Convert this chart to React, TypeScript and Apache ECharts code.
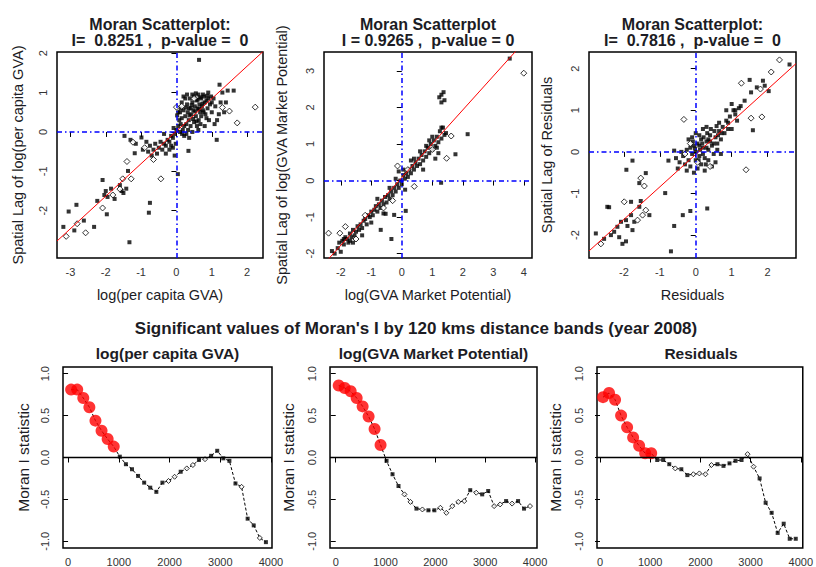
import React, { useEffect, useRef } from "react";
import * as echarts from "echarts";

type Pt = [number, number];

const FONT = '"Liberation Sans", Arial, Helvetica, sans-serif';

// ---------- top row: Moran scatterplots ----------
const moranI = [0.8251, 0.9265, 0.7816];
const lineIntercepts = [0.02, 0.08, -0.06];
const scatterTitles = ["Moran Scatterplot:", "Moran Scatterplot", "Moran Scatterplot:"];
const scatterStats = ["I=  0.8251 ,  p-value =  0", "I = 0.9265 ,  p-value = 0", "I=  0.7816 ,  p-value =  0"];
const scatterXNames = ["log(per capita GVA)", "log(GVA Market Potential)", "Residuals"];
const scatterYNames = [
  "Spatial Lag of log(per capita GVA)",
  "Spatial Lag of log(GVA Market Potential)",
  "Spatial Lag of Residuals",
];
const scatterXTicks = [[-3, -2, -1, 0, 1, 2], [-2, -1, 0, 1, 2, 3, 4], [-2, -1, 0, 1, 2]];
const scatterYTicks = [[-2, -1, 0, 1, 2], [-2, -1, 0, 1, 2, 3], [-2, -1, 0, 1, 2]];
const scatterXRange = [[-3.38, 2.45], [-2.55, 4.27], [-2.97, 2.79]];
const scatterYRange = [[-3.2, 2.03], [-2.12, 3.52], [-2.55, 2.4]];

const gvaRegular: Pt[] = [
  [0.05, 0.5], [0.1, 0.5], [0.15, 0.35], [0.2, 0.55], [0.25, 0.4], [0.3, 0.7], [0.32, 0.5], [0.35, 0.3],
  [0.38, 0.85], [0.4, 0.6], [0.42, 0.45], [0.45, 0.75], [0.48, 0.55], [0.5, 0.9], [0.52, 0.65], [0.55, 0.4],
  [0.57, 0.8], [0.6, 0.6], [0.62, 0.95], [0.65, 0.7], [0.67, 0.5], [0.7, 0.85], [0.72, 0.65], [0.75, 0.55],
  [0.78, 0.9], [0.8, 0.75], [0.82, 0.45], [0.85, 0.8], [0.88, 0.6], [0.9, 1.0], [0.95, 0.7], [1.0, 0.5],
  [1.05, 0.85], [1.1, 0.65], [1.15, 0.3], [1.2, 0.45], [1.3, 1.0], [1.4, 0.75], [1.62, 1.05], [0.12, 0.2],
  [0.18, 0.05], [0.22, 0.15], [0.08, 0.3], [0.28, 0.2], [0.33, 0.05], [0.4, 0.15], [0.45, 0.0], [0.5, 0.25],
  [0.58, 0.15], [0.63, 0.3], [0.68, 0.2], [0.25, 0.85], [0.3, 0.95], [0.35, 0.6], [0.45, 0.95], [0.55, 0.98],
  [0.6, 0.82], [0.7, 0.4], [0.75, 0.95], [0.85, 0.35], [0.92, 0.3], [0.98, 0.9], [1.08, 0.2], [0.15, 0.75],
  [0.2, 0.9], [0.05, 0.15], [0.02, 0.42], [0.0, 0.05], [0.1, 0.0], [0.16, -0.05], [0.22, -0.1], [0.28, -0.05],
  [0.36, -0.15], [0.62, 0.05], [0.8, 0.15], [1.25, 0.75], [1.35, 0.5], [0.53, 0.52], [0.43, 0.68], [0.64, 0.58],
  [0.74, 0.72], [0.37, 0.42], [0.47, 0.33], [0.57, 0.27], [0.67, 0.88], [0.77, 0.5], [0.87, 0.92], [1.45, 1.05],
  [1.22, 1.2], [0.64, 1.83], [1.14, -0.2], [0.34, -0.48], [0.04, -1.07], [0.9, 0.85], [1.0, 0.75], [0.12, 0.6],
  [0.26, 0.62],
  [-0.05, -0.05], [-0.1, -0.15], [-0.15, -0.1], [-0.2, -0.25], [-0.25, -0.2], [-0.3, -0.35], [-0.35, -0.3],
  [-0.4, -0.45], [-0.45, -0.25], [-0.5, -0.4], [-0.55, -0.55], [-0.6, -0.3], [-0.65, -0.45], [-0.7, -0.6],
  [-0.75, -0.35], [-0.8, -0.5], [-0.1, -0.4], [-0.2, -0.45], [-0.3, -0.55], [-0.15, -0.35], [-0.08, 0.1],
  [-0.02, -0.3], [-0.05, -0.6], [-0.35, -0.05], [-0.95, -0.45], [-0.85, -0.25],
  [-1.47, -0.1], [-0.99, -0.14], [-1.18, -0.54], [-1.15, -0.3], [-1.3, -0.2], [-1.37, -0.99], [-1.42, -1.44],
  [-1.6, -1.35], [-1.55, -1.5], [-1.5, -1.55], [-1.75, -1.7], [-2.09, -1.22], [-1.85, -1.44], [-2.04, -1.6],
  [-1.97, -2.09], [-2.24, -1.75], [-0.75, -1.8], [-0.78, -2.05], [-1.33, -2.8], [-2.83, -1.85], [-3.05, -2.02],
  [-2.33, -2.41], [-3.2, -2.41], [-2.89, -2.5], [-2.62, -2.25], [-1.95, -1.65], [-2.0, -1.5],
];
const gvaInfluential: Pt[] = [
  [2.23, 0.63], [1.72, 0.23], [1.5, 0.53], [0.0, 0.63], [1.3, 0.62], [-1.23, -0.26], [-0.65, -0.7],
  [-0.44, -1.19], [-1.52, -1.19], [-1.28, -1.19], [-1.8, -1.6], [-2.09, -1.93], [-2.81, -2.33], [-2.57, -2.56],
  [-3.12, -2.65], [-1.4, -0.75], [-0.9, -0.4], [0.15, 0.65], [0.5, 0.85], [-1.6, -1.45],
];

const mpRegular: Pt[] = [
  [-2.2, -2.0], [-2.1, -1.85], [-2.0, -1.95], [-1.95, -1.65], [-1.9, -1.75], [-1.85, -1.55], [-1.8, -1.6],
  [-1.75, -1.7], [-1.7, -1.45], [-1.65, -1.55], [-1.6, -1.35], [-1.55, -1.5], [-1.5, -1.4], [-1.45, -1.25],
  [-1.4, -1.35], [-1.35, -1.2], [-1.3, -1.3], [-1.25, -1.1], [-1.2, -1.05], [-1.15, -1.2], [-1.1, -0.95],
  [-1.05, -1.0], [-1.0, -0.85], [-0.95, -0.95], [-0.9, -0.8], [-0.85, -0.7], [-0.8, -0.85], [-0.75, -0.65],
  [-0.7, -0.75], [-0.65, -0.55], [-0.6, -0.65], [-0.55, -0.45], [-0.5, -0.6], [-0.45, -0.4], [-0.4, -0.5],
  [-0.35, -0.3], [-0.3, -0.4], [-0.25, -0.2], [-0.2, -0.3], [-0.15, -0.1], [-0.1, -0.2], [-0.05, 0.0],
  [0.0, -0.1], [0.05, 0.15], [0.1, 0.05], [0.15, 0.2], [0.2, 0.1], [0.25, 0.3], [0.3, 0.2], [0.35, 0.4],
  [0.4, 0.3], [0.45, 0.5], [0.5, 0.4], [0.55, 0.6], [0.6, 0.45], [0.65, 0.7], [0.7, 0.55], [0.75, 0.8],
  [0.8, 0.65], [0.85, 0.9], [0.9, 0.75], [0.95, 1.0], [1.0, 0.85], [1.05, 1.1], [1.1, 0.95], [1.15, 1.2],
  [1.2, 1.05], [1.25, 1.35], [1.3, 1.15], [1.35, 1.45], [1.4, 1.25], [1.45, 1.3], [0.9, 1.1], [1.0, 1.2],
  [0.6, 0.8], [0.3, 0.55], [-0.1, 0.25], [0.05, 0.3], [-0.6, -0.9], [-1.0, -1.15], [-1.3, -1.5], [-1.6, -1.7],
  [-0.8, -0.5], [-0.4, -0.2], [1.2, 0.75], [0.7, 0.3], [1.1, 0.6], [0.8, 0.95], [0.4, 0.6], [-0.2, 0.05],
  [-1.7, -1.65], [-1.9, -1.6], [-2.05, -1.7], [1.3, 1.45], [1.15, 0.9],
  [3.54, 3.34], [1.3, 2.35], [1.37, 2.42], [1.23, 2.28], [1.4, 2.2], [1.3, 2.14], [2.16, 1.27], [1.76, 0.72],
  [1.29, -0.06], [0.11, -0.25], [0.13, -0.83], [-0.69, -1.35], [-0.34, -1.6], [-0.25, -0.94], [-0.53, -0.91],
  [-2.29, -1.93],
];
const mpInfluential: Pt[] = [
  [4.0, 2.94], [1.47, 0.61], [1.62, 1.22], [0.41, -0.16], [-2.4, -1.44], [-2.03, -1.44], [-1.85, -1.26],
  [-0.14, 0.4], [-0.6, -0.75], [-0.3, -0.55], [-1.2, -0.95], [1.0, 0.85], [-1.5, -1.6], [0.2, 0.3],
];

const resRegular: Pt[] = [
  [0.0, 0.0], [0.05, 0.2], [0.1, -0.1], [0.15, 0.3], [0.2, 0.1], [0.25, -0.15], [0.3, 0.25], [0.35, 0.05],
  [0.4, 0.4], [0.45, 0.15], [0.5, -0.05], [0.55, 0.35], [0.6, 0.2], [0.65, 0.5], [0.7, 0.3], [0.75, 0.6],
  [0.8, 0.45], [0.9, 0.7], [1.0, 0.55], [1.1, 0.9], [1.15, 0.75], [1.2, 1.05], [1.05, 1.0], [0.95, 0.85],
  [0.85, 0.75], [-0.05, 0.15], [-0.1, -0.05], [-0.15, 0.1], [-0.2, -0.2], [-0.25, 0.05], [-0.3, -0.3],
  [-0.35, -0.1], [-0.4, 0.0], [-0.45, -0.25], [-0.5, -0.4], [-0.55, -0.15], [-0.2, 0.3], [-0.1, 0.35],
  [0.0, 0.45], [0.1, 0.4], [0.2, 0.55], [0.3, 0.6], [0.15, -0.3], [0.05, -0.4], [-0.05, -0.5], [0.25, -0.45],
  [0.35, -0.2], [0.45, -0.35], [0.55, -0.25], [0.1, 0.15], [0.2, -0.05], [0.3, 0.1], [0.4, 0.25],
  [-0.15, -0.35], [-0.25, -0.45], [0.0, -0.2], [0.12, 0.05], [0.22, 0.35], [0.32, 0.45], [0.42, 0.55],
  [0.52, 0.5], [0.62, 0.4], [0.72, 0.45], [0.5, 0.2], [0.6, 0.05], [0.7, -0.05], [0.35, 0.3], [-0.08, 0.25],
  [0.08, -0.2], [0.18, 0.2], [-0.02, 0.08], [0.28, -0.3], [0.65, 0.7], [0.85, 1.0], [1.0, 1.15], [0.58, 0.62],
  [0.9, 0.55], [2.61, 2.1], [1.87, 1.71], [1.92, 1.59], [1.5, 1.73], [1.54, 1.43], [2.03, 1.46], [1.36, 1.23],
  [1.59, 0.52], [-0.6, 0.03], [-0.76, -0.21], [-0.85, -0.99], [-0.36, -1.52], [-0.15, -1.42], [0.32, -1.36],
  [-0.6, -1.78], [-0.69, -2.39], [-1.76, -0.21], [-1.93, -0.43], [-1.39, -0.51], [-1.57, -0.75],
  [-2.41, -1.33], [-2.46, -1.32], [-1.53, -1.18], [-1.57, -1.32], [-1.29, -1.52], [-1.8, -1.52],
  [-1.71, -1.68], [-1.94, -1.64], [-2.08, -1.68], [-1.9, -1.78], [-2.18, -1.8], [-1.76, -1.88], [-2.36, -2.0],
  [-2.13, -2.05], [-1.94, -2.15], [-2.04, -2.21], [-2.55, -2.09], [-2.78, -1.96], [-2.27, -1.92], [-1.8, -1.2],
  [1.25, 1.1], [1.1, 1.0], [1.7, 1.55],
];
const resInfluential: Pt[] = [
  [2.33, 2.21], [2.1, 1.92], [1.8, 1.51], [1.27, 1.65], [1.4, -0.43], [1.54, 0.81], [1.84, 0.84],
  [-0.33, 0.78], [-1.53, -0.63], [-1.43, -0.82], [-1.99, -1.2], [-1.39, -1.4], [-1.48, -1.52], [-1.62, -1.64],
  [-2.64, -2.21], [-0.3, -0.05], [0.05, -0.25], [0.4, -0.35], [-0.15, 0.2],
];

// ---------- bottom row: Moran's I by distance band ----------
const bandTitle = "Significant values of Moran's I by 120 kms distance bands (year 2008)";
const bandSubtitles = ["log(per capita GVA)", "log(GVA Market Potential)", "Residuals"];
const bandYName = "Moran I statistic";
const bands = [
  60, 180, 300, 420, 540, 660, 780, 900, 1020, 1140, 1260, 1380, 1500, 1620, 1740, 1860, 1980, 2100, 2220,
  2340, 2460, 2580, 2700, 2820, 2940, 3060, 3180, 3300, 3420, 3540, 3660, 3780, 3900,
];
const bandXTicks = [0, 1000, 2000, 3000, 4000];
const bandYTicks = [-1, -0.5, 0, 0.5, 1];
const bandXRange = [[-100, 4020], [-115, 4040], [-60, 4040]];
const bandYRange = [-1.08, 1.08];
const gvaBandI = [
  0.81, 0.81, 0.71, 0.6, 0.44, 0.32, 0.22, 0.13, 0.01, -0.08, -0.14, -0.22, -0.3, -0.36, -0.41, -0.3, -0.28,
  -0.23, -0.17, -0.13, -0.09, -0.03, -0.02, 0.02, 0.08, -0.01, -0.04, -0.31, -0.35, -0.73, -0.81, -0.96, -1.01,
];
const mpBandI = [
  0.86, 0.83, 0.79, 0.71, 0.61, 0.49, 0.34, 0.15, -0.04, -0.2, -0.34, -0.44, -0.53, -0.61, -0.62, -0.63, -0.63,
  -0.6, -0.66, -0.58, -0.53, -0.52, -0.39, -0.42, -0.44, -0.4, -0.58, -0.56, -0.52, -0.55, -0.52, -0.61, -0.58,
];
const resBandI = [
  0.72, 0.77, 0.69, 0.5, 0.36, 0.24, 0.14, 0.05, 0.05, -0.03, -0.03, -0.08, -0.13, -0.14, -0.21, -0.2, -0.19,
  -0.2, -0.09, -0.08, -0.1, -0.07, -0.04, -0.03, 0.04, -0.11, -0.25, -0.54, -0.66, -0.9, -0.79, -0.97, -0.97,
];
// s = significant, p = plain point, d = open diamond
const gvaBandMark = ("ssssssss" + "pppppppp" + "ddpddpdpppppdppdp").split("");
const mpBandMark = ("ssssssss" + "pppddpdppdddddpdppddpdppd").split("");
const resBandMark = ("sssssssss" + "pppdppddddpppppddppppppp").split("");

// ---------- layout ----------
const topGrids = [
  { left: 57, top: 52, width: 206, height: 206 },
  { left: 324, top: 52, width: 208, height: 206 },
  { left: 589, top: 52, width: 207, height: 206 },
];
const bottomGrids = [
  { left: 63, top: 367, width: 209, height: 181 },
  { left: 330, top: 367, width: 207, height: 181 },
  { left: 597, top: 367, width: 208, height: 181 },
];

function makeAxis(
  gridIndex: number,
  range: number[],
  ticks: number[],
  fmt: (v: number) => string,
  rotate: number,
  margin: number
) {
  return {
    type: "value",
    gridIndex,
    min: range[0],
    max: range[1],
    axisLine: { show: false },
    axisTick: { show: true, inside: false, length: 5, customValues: ticks, lineStyle: { color: "#000", width: 1 } },
    axisLabel: {
      show: true,
      customValues: ticks,
      formatter: (v: number) => fmt(v),
      rotate,
      margin,
      fontSize: 11,
      color: "#333",
      fontFamily: FONT,
    },
    splitLine: { show: false },
  };
}

function text(x: number, y: number, t: string, size: number, bold: boolean, rotation = 0) {
  return {
    type: "text",
    x,
    y,
    rotation,
    silent: true,
    style: {
      text: t,
      fontSize: size,
      fontWeight: bold ? "bold" : "normal",
      fontFamily: FONT,
      fill: "#1c1c24",
      textAlign: "center",
      textVerticalAlign: "middle",
    },
  };
}

function buildOption() {
  const grid = [...topGrids, ...bottomGrids].map((g) => ({
    ...g,
    show: true,
    borderColor: "#000",
    borderWidth: 1.5,
    backgroundColor: "#fff",
  }));
  const xAxis: any[] = [];
  const yAxis: any[] = [];
  const series: any[] = [];
  const graphic: any[] = [];

  const topSets = [
    { regular: gvaRegular, influential: gvaInfluential },
    { regular: mpRegular, influential: mpInfluential },
    { regular: resRegular, influential: resInfluential },
  ];
  const intFmt = (v: number) => String(v);

  topSets.forEach((set, i) => {
    xAxis.push(makeAxis(i, scatterXRange[i], scatterXTicks[i], intFmt, 0, 8));
    yAxis.push(makeAxis(i, scatterYRange[i], scatterYTicks[i], intFmt, 90, 9));
    const [x0, x1] = scatterXRange[i];
    const b = moranI[i];
    const a = lineIntercepts[i];
    series.push({
      type: "scatter",
      xAxisIndex: i,
      yAxisIndex: i,
      data: set.regular,
      symbol: "rect",
      symbolSize: 4,
      itemStyle: { color: "#000" },
      silent: true,
      z: 2,
    });
    series.push({
      type: "scatter",
      xAxisIndex: i,
      yAxisIndex: i,
      data: set.influential,
      symbol: "diamond",
      symbolSize: 6,
      itemStyle: { color: "#fff", borderColor: "#000", borderWidth: 1 },
      silent: true,
      z: 2,
    });
    series.push({
      type: "line",
      xAxisIndex: i,
      yAxisIndex: i,
      data: [
        [x0, a + b * x0],
        [x1, a + b * x1],
      ],
      symbol: "none",
      lineStyle: { color: "#ff0000", width: 1 },
      silent: true,
      z: 4,
      markLine: {
        silent: true,
        symbol: ["none", "none"],
        label: { show: false },
        lineStyle: { color: "#0000ff", width: 1.5, type: [5, 3, 1.5, 3] },
        data: [{ xAxis: 0 }, { yAxis: 0 }],
      },
    });
    const g = topGrids[i];
    const cx = g.left + g.width / 2;
    graphic.push(text(cx, 24, scatterTitles[i], 16, true));
    graphic.push(text(cx, 40, scatterStats[i], 16, true));
    graphic.push(text(cx, 295, scatterXNames[i], 14.5, false));
    graphic.push(text(g.left - (i === 0 ? 39 : 42), g.top + g.height / 2, scatterYNames[i], 14.5, false, Math.PI / 2));
  });

  const bottomSets = [
    { values: gvaBandI, marks: gvaBandMark },
    { values: mpBandI, marks: mpBandMark },
    { values: resBandI, marks: resBandMark },
  ];
  bottomSets.forEach((set, k) => {
    const i = k + 3;
    xAxis.push(makeAxis(i, bandXRange[k], bandXTicks, intFmt, 0, 8));
    yAxis.push(makeAxis(i, bandYRange, bandYTicks, (v) => v.toFixed(1), 90, 13));
    const pts = bands.map((d, j) => [d, set.values[j]]);
    series.push({
      type: "line",
      xAxisIndex: i,
      yAxisIndex: i,
      data: pts,
      symbol: "none",
      lineStyle: { color: "#000", width: 1, type: [3, 2] },
      silent: true,
      z: 2,
      markLine: {
        silent: true,
        symbol: ["none", "none"],
        label: { show: false },
        lineStyle: { color: "#000", width: 1.3, type: "solid" },
        data: [{ yAxis: 0 }],
      },
    });
    series.push({
      type: "scatter",
      xAxisIndex: i,
      yAxisIndex: i,
      data: pts.filter((_, j) => set.marks[j] === "p"),
      symbol: "rect",
      symbolSize: 4,
      itemStyle: { color: "#000" },
      silent: true,
      z: 3,
    });
    series.push({
      type: "scatter",
      xAxisIndex: i,
      yAxisIndex: i,
      data: pts.filter((_, j) => set.marks[j] === "d"),
      symbol: "diamond",
      symbolSize: 5,
      itemStyle: { color: "#fff", borderColor: "#000", borderWidth: 1 },
      silent: true,
      z: 3,
    });
    series.push({
      type: "scatter",
      xAxisIndex: i,
      yAxisIndex: i,
      data: pts.filter((_, j) => set.marks[j] === "s"),
      symbol: "circle",
      symbolSize: 12,
      itemStyle: { color: "#ff0000" },
      silent: true,
      z: 4,
    });
    const g = bottomGrids[k];
    graphic.push(text(g.left + g.width / 2, 353, bandSubtitles[k], 15.5, true));
    graphic.push(text(g.left - (k === 0 ? 40 : 42), g.top + g.height / 2, bandYName, 15.5, false, Math.PI / 2));
  });
  graphic.push(text(416, 328, bandTitle, 17, true));

  return {
    animation: false,
    backgroundColor: "#fff",
    grid,
    xAxis,
    yAxis,
    series,
    graphic,
  };
}

export default function App() {
  const ref = useRef<HTMLDivElement>(null);
  useEffect(() => {
    if (!ref.current) return;
    const chart = echarts.init(ref.current, undefined, { renderer: "svg" });
    chart.setOption(buildOption() as any);
    return () => chart.dispose();
  }, []);
  return (
    <div
      ref={ref}
      style={{ position: "fixed", left: 0, top: 0, width: 816, height: 567, background: "#fff" }}
    />
  );
}
